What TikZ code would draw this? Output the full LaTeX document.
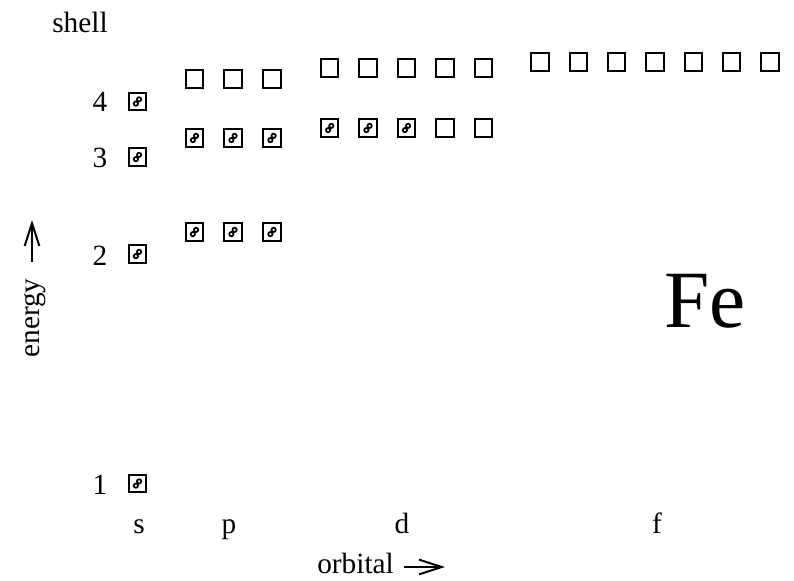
\documentclass[tikz,border=0pt]{standalone}
\usepackage{fontspec}
\setmainfont{Liberation Serif}
\usetikzlibrary{arrows.meta}
\tikzset{
  orb/.style={draw, line width=1.5pt, minimum size=13pt, inner sep=0pt, outer sep=0pt},
  lbl/.style={font=\fontsize{22}{26}\selectfont, inner sep=0pt, anchor=base},
  axisarrow/.style={line width=1.5pt, -{Straight Barb[length=17pt,width=11pt,line width=1.5pt]}},
  epair/.pic={\draw[line width=1.3pt] (-1.2pt,-1.6pt) circle[radius=1.6pt] (1.2pt,1.6pt) circle[radius=1.6pt];}
}
\begin{document}
\begin{tikzpicture}[x=0.75pt,y=-0.75pt]
\useasboundingbox (0,0) rectangle (794,581);
% empty orbital boxes
\foreach \n/\x/\y in {p4a/194.5/79, p4b/233/79, p4c/272/79,
  d4a/329.7/68, d4b/368/68, d4c/406.5/68, d4d/445/68, d4e/483.5/68,
  d3d/445/128, d3e/483.5/128,
  f4a/540/62, f4b/578.3/62, f4c/616.7/62, f4d/655/62, f4e/693.3/62, f4f/731.7/62, f4g/770/62}
  {\node[orb] (\n) at (\x,\y) {};}
% filled orbital boxes (electron pairs)
\foreach \n/\x/\y in {s4/137.5/101.5, s3/137.5/157, s2/137.5/254, s1/137.5/483.5,
  p3a/194.5/138, p3b/233/138, p3c/272/138,
  p2a/194.5/232, p2b/233/232, p2c/272/232,
  d3a/329.7/128, d3b/368/128, d3c/406.5/128}
  {\node[orb] (\n) at (\x,\y) {}; \pic at (\n.center) {epair};}
% shell numbers
\node[lbl] (n4) at (100,112) {4};
\node[lbl] (n3) at (100,168) {3};
\node[lbl] (n2) at (100,266) {2};
\node[lbl] (n1) at (100,494) {1};
\node[lbl] (shell) at (80,33) {shell};
% orbital letters
\node[lbl] (ls) at (139,533) {s};
\node[lbl] (lp) at (229,533) {p};
\node[lbl] (ld) at (402,533) {d};
\node[lbl] (lf) at (657,533) {f};
% axes
\node[lbl, anchor=base west] (orbital) at (317,574) {orbital};
\coordinate (oa) at (404,567);
\coordinate (ob) at (445,567);
\draw[axisarrow] (oa) -- (ob);
\node[lbl, rotate=90] (energy) at (40,318) {energy};
\coordinate (ea) at (32,262);
\coordinate (eb) at (32,220);
\draw[axisarrow] (ea) -- (eb);
% element
\node[font=\fontsize{61}{70}\selectfont, inner sep=0pt, anchor=base] (fe) at (705,328) {Fe};
\end{tikzpicture}
\end{document}
